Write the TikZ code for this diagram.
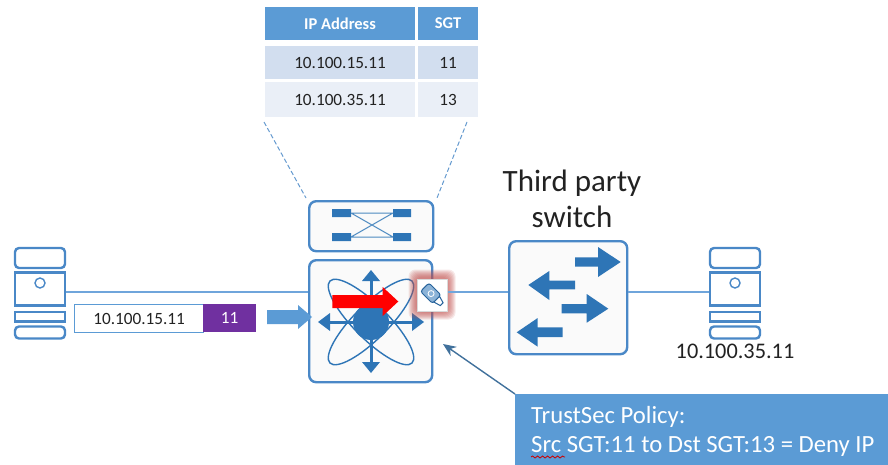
\documentclass[tikz,border=0pt]{standalone}
\usepackage{fontspec}
\setmainfont{Carlito}
\usetikzlibrary{calc,decorations.pathmorphing,arrows.meta}
\definecolor{hdr}{HTML}{5B9BD5}
\definecolor{rowa}{HTML}{D2DEEF}
\definecolor{rowb}{HTML}{EAEFF7}
\definecolor{icon}{HTML}{2E75B6}
\definecolor{edge}{HTML}{4A88C7}
\definecolor{pale}{HTML}{FAFAFA}
\definecolor{wire}{HTML}{6FA5DB}
\definecolor{purp}{HTML}{7030A0}
\definecolor{dark}{HTML}{41719C}
\definecolor{ink}{HTML}{222222}
\definecolor{glow}{HTML}{C0504D}
\tikzset{
 cell/.style={anchor=north west,inner sep=0pt,outer sep=0pt,font=\fontsize{17.2}{17}\selectfont,text=ink},
 hcell/.style={cell,fill=hdr,text=white,font=\fontsize{16.5}{17}\selectfont\bfseries},
 devbox/.style={draw=edge,line width=2.4pt,fill=pale,rounded corners=7pt,inner sep=0pt,anchor=north west},
 wireline/.style={draw=wire,line width=1.5pt},
 srv/.style={draw=edge,line width=2.4pt,fill=white},
 dashedge/.style={draw=edge!85!white,line width=1pt,dashed,dash pattern=on 4.5pt off 2.5pt},
}
\newcommand{\serverat}[2]{%
 \begin{scope}[shift={(#1,0)}]
 \draw[srv,rounded corners=4pt] (1,268) -- (1,248) -- (51,248) -- (51,268) -- cycle;
 \draw[srv] (1,272.5) rectangle (51,305.5);
 \draw[srv] (1,312) rectangle (51,321.5);
 \draw[srv,rounded corners=4pt] (1,326.5) -- (1,338.5) -- (51,338.5) -- (51,326.5) -- cycle;
 \draw[edge,line width=1.4pt] (26,283) circle (5);
 \node[inner sep=0pt,minimum width=52pt,minimum height=92pt,anchor=north west] (#2) at (0,247) {};
 \end{scope}}
\begin{document}
\begin{tikzpicture}[x=1pt,y=-1pt]
\useasboundingbox (0,0) rectangle (888,465);
% table
\node[hcell,minimum width=150pt,minimum height=33pt] (h1) at (265,7) {IP Address};
\node[hcell,minimum width=60pt,minimum height=33pt] (h2) at (418,7) {SGT};
\node[cell,fill=rowa,minimum width=150pt,minimum height=33pt] (a1) at (265,46.5) {10.100.15.11};
\node[cell,fill=rowa,minimum width=60pt,minimum height=33pt] (a2) at (418,46.5) {11};
\node[cell,fill=rowb,minimum width=150pt,minimum height=35pt] (b1) at (265,82) {10.100.35.11};
\node[cell,fill=rowb,minimum width=60pt,minimum height=35pt] (b2) at (418,82) {13};
% devices
\serverat{14}{srvL}
\serverat{709}{srvR}
\node[devbox,minimum width=124pt,minimum height=50pt] (top) at (308,200) {};
\node[devbox,minimum width=123pt,minimum height=122pt] (core) at (308,259) {};
\node[devbox,minimum width=118pt,minimum height=113pt] (tps) at (508,240) {};
\draw[wireline] (srvL.east |- 0,292) -- (core.west |- 0,292);
\draw[dashedge] (264,122) -- (306,198);
\draw[dashedge] (467,122) -- (437,198);
% top icon
\fill[icon] (332,209) rectangle (351,217) (393,209) rectangle (411,217) (332,233) rectangle (351,241) (393,233) rectangle (411,241);
\draw[icon!85!white,line width=1pt] (351,213) -- (393,213) (351,237) -- (393,237) (351,213) -- (393,237) (351,237) -- (393,213);
% core icon
\begin{scope}[shift={(371,322)}]
 \draw[icon,line width=1.4pt,rotate=45] (0,0) ellipse (58 and 17);
 \draw[icon,line width=1.4pt,rotate=-45] (0,0) ellipse (58 and 17);
 \fill[icon] (0,0) circle (18);
 \draw[icon,line width=3pt] (-44,0) -- (44,0) (0,-44) -- (0,43);
 \fill[icon] (-53,0) -- (-41,-9) -- (-41,9) -- cycle;
 \fill[icon] (53,0) -- (41,-9) -- (41,9) -- cycle;
 \fill[icon] (0,-52) -- (-9,-41) -- (9,-41) -- cycle;
 \fill[icon] (0,51) -- (-9,40) -- (9,40) -- cycle;
\end{scope}
\fill[red] (332.3,295) -- (382.7,295) -- (382.7,287) -- (398.3,301.5) -- (382.7,316) -- (382.7,308) -- (332.3,308) -- cycle;
% badge with glow
\foreach \g in {8.5,7.5,6.5,5.5,4.5,3.5,2.5,1.5}{
 \fill[glow,opacity=.13,rounded corners=7pt] (417-\g,278-\g) rectangle (447+\g,311+\g);
}
\node[draw=black!15,line width=.5pt,fill=white,inner sep=0pt,minimum width=30pt,minimum height=32pt,anchor=north west] (badge) at (417,278.5) {};
\begin{scope}[shift={(432.5,295)},rotate=45]
 \draw[icon!85!black,line width=1pt,fill=icon!55!white,rounded corners=2.5pt] (-6,-11) rectangle (6,6);
 \draw[icon!85!black,line width=1pt,fill=white] (-4,6) -- (4,6) -- (2,13) -- (-2,13) -- cycle;
 \draw[white,line width=.8pt] (0,-2) circle (3);
\end{scope}
\draw[wireline] (badge.east |- 0,292) -- (tps.west |- 0,292);
\draw[wireline] (tps.east |- 0,292) -- (srvR.west |- 0,292);
% switch arrows
\fill[icon] (575,257.3) -- (598,257.3) -- (598,247) -- (620.7,262) -- (598,277) -- (598,266.7) -- (575,266.7) -- cycle;
\fill[icon] (575,280.7) -- (549.3,280.7) -- (549.3,271) -- (528.3,285) -- (549.3,300) -- (549.3,289.3) -- (575,289.3) -- cycle;
\fill[icon] (561.7,304) -- (586.7,304) -- (586.7,294) -- (608.3,308.7) -- (586.7,322.7) -- (586.7,313.3) -- (561.7,313.3) -- cycle;
\fill[icon] (562.7,327.3) -- (537.7,327.3) -- (537.7,318) -- (516.7,332.3) -- (537.7,346.7) -- (537.7,337) -- (562.7,337) -- cycle;
% packet
\node[draw=hdr,line width=1.2pt,fill=white,inner sep=0pt,minimum width=129pt,minimum height=28pt,anchor=north west,font=\fontsize{17.2}{17}\selectfont,text=ink] (pkt) at (74,304) {10.100.15.11};
\node[fill=purp,inner sep=0pt,minimum width=53pt,minimum height=28pt,anchor=north west,font=\fontsize{17.2}{17}\selectfont,text=white] (tag) at (203,304) {11};
\fill[hdr] (267,310) -- (298,310) -- (298,305) -- (312,317) -- (298,329) -- (298,324) -- (267,324) -- cycle;
% labels
\node[align=center,font=\fontsize{31}{36}\selectfont,text=ink,inner sep=0pt] (lbl) at (572,199) {Third party\\switch};
\node[font=\fontsize{22.3}{22}\selectfont,text=ink,inner sep=0pt] (ipr) at (735,351) {10.100.35.11};
% callout
\node[fill=hdr,inner sep=0pt,minimum width=373pt,minimum height=71pt,anchor=north west] (pol) at (515,394) {};
\coordinate (tip) at (443,344);
\draw[dark,line width=1.4pt,-{Stealth[length=13pt,width=11pt]}] (pol.north west) -- (tip);
\node[anchor=base west,inner sep=0pt,text=white,font=\fontsize{24.7}{22}\selectfont] (t1) at (531,423) {TrustSec Policy:};
\node[anchor=base west,inner sep=0pt,text=white,font=\fontsize{24.7}{22}\selectfont] (t2) at (531,452) {Src SGT:11 to Dst SGT:13 = Deny IP};
\draw[red!80!black,line width=.8pt,decorate,decoration={snake,amplitude=1pt,segment length=5pt}] (531,457) -- (565,457);
\end{tikzpicture}
\end{document}
